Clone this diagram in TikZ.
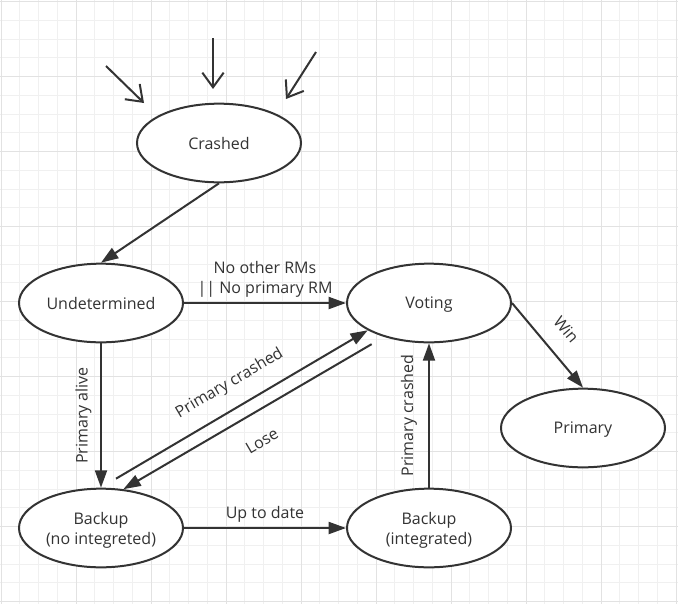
\documentclass[tikz,border=0pt]{standalone}
\usepackage{fontspec}
\setmainfont{Open Sans}
\usetikzlibrary{shapes,arrows.meta}
\definecolor{ink}{HTML}{333333}
\definecolor{gridminor}{HTML}{F0F0F0}
\definecolor{gridmajor}{HTML}{E2E2E2}

\begin{document}
\begin{tikzpicture}[x=0.75pt, y=-0.75pt,
every edge/.style = {draw=ink, line width=1.5pt,
      -{Triangle[length=13pt,width=9pt]}},
 state/.style = {%
      ellipse, draw=ink, line width=1.5pt, fill=white,
      minimum width=123pt, minimum height=59pt, inner sep=0pt,
      text depth=0pt, align=center, text=ink,
      font=\fontsize{12}{15}\selectfont},
 lbl/.style = {%
      text=ink, align=center, font=\fontsize{12}{15}\selectfont},
 inarrow/.style = {-{Straight Barb[length=11pt,width=16pt]}}
                    ]
\useasboundingbox (0,0) rectangle (678,604);
\fill[white] (0,0) rectangle (678,604);
% grid
\foreach \i in {0,...,36}
  \draw[gridminor, line width=0.75pt] ({1+18.75*\i},0) -- ({1+18.75*\i},604);
\foreach \i in {0,...,32}
  \draw[gridminor, line width=0.75pt] (0,{1.7+18.75*\i}) -- (678,{1.7+18.75*\i});
\foreach \i in {0,...,9}
  \draw[gridmajor, line width=0.75pt] ({1+75*\i},0) -- ({1+75*\i},604);
\foreach \i in {0,...,8}
  \draw[gridmajor, line width=0.75pt] (0,{1.7+75*\i}) -- (678,{1.7+75*\i});
%
\node(crash) [state] at (219, 143) {Crashed};
\node(undet) [state] at (101, 303) {Undetermined};
\node(vote)  [state] at (429, 303) {Voting};
\node(prim)  [state] at (583, 428) {Primary};
\node(bno)   [state] at (101, 528) {Backup\\(no integreted)};
\node(bint)  [state] at (429, 528) {Backup\\(integrated)};
%
\coordinate (in1) at (106, 66);  \coordinate (in1e) at (144, 103);
\coordinate (in2) at (213, 38);  \coordinate (in2e) at (213, 89);
\coordinate (in3) at (316, 52);  \coordinate (in3e) at (286, 99);
\path   (in1)  edge[inarrow] (in1e);
\path   (in2)  edge[inarrow] (in2e);
\path   (in3)  edge[inarrow] (in3e);
%
\path   (crash.south)  edge (undet.north);
\path   (undet)  edge node[lbl, above] {No other RMs\\|| No primary RM} (vote);
\path   (undet)  edge node[lbl, rotate=90, above=3pt] {Primary alive} (bno);
\path   ([shift={(15,-9)}]bno.north)  edge node[lbl, sloped, above=8pt] {Primary crashed} (vote.204);
\path   ([shift={(-10,8)}]vote.215)  edge node[lbl, sloped, below=13pt] {Lose} (bno.60);
\path   (bno)  edge node[lbl, above] {Up to date} (bint);
\path   (bint)  edge node[lbl, sloped, above=5pt] {Primary crashed} (vote);
\path   (vote.east)  edge node[lbl, sloped, above=10pt] {Win} (prim.north);
\end{tikzpicture}
\end{document}
